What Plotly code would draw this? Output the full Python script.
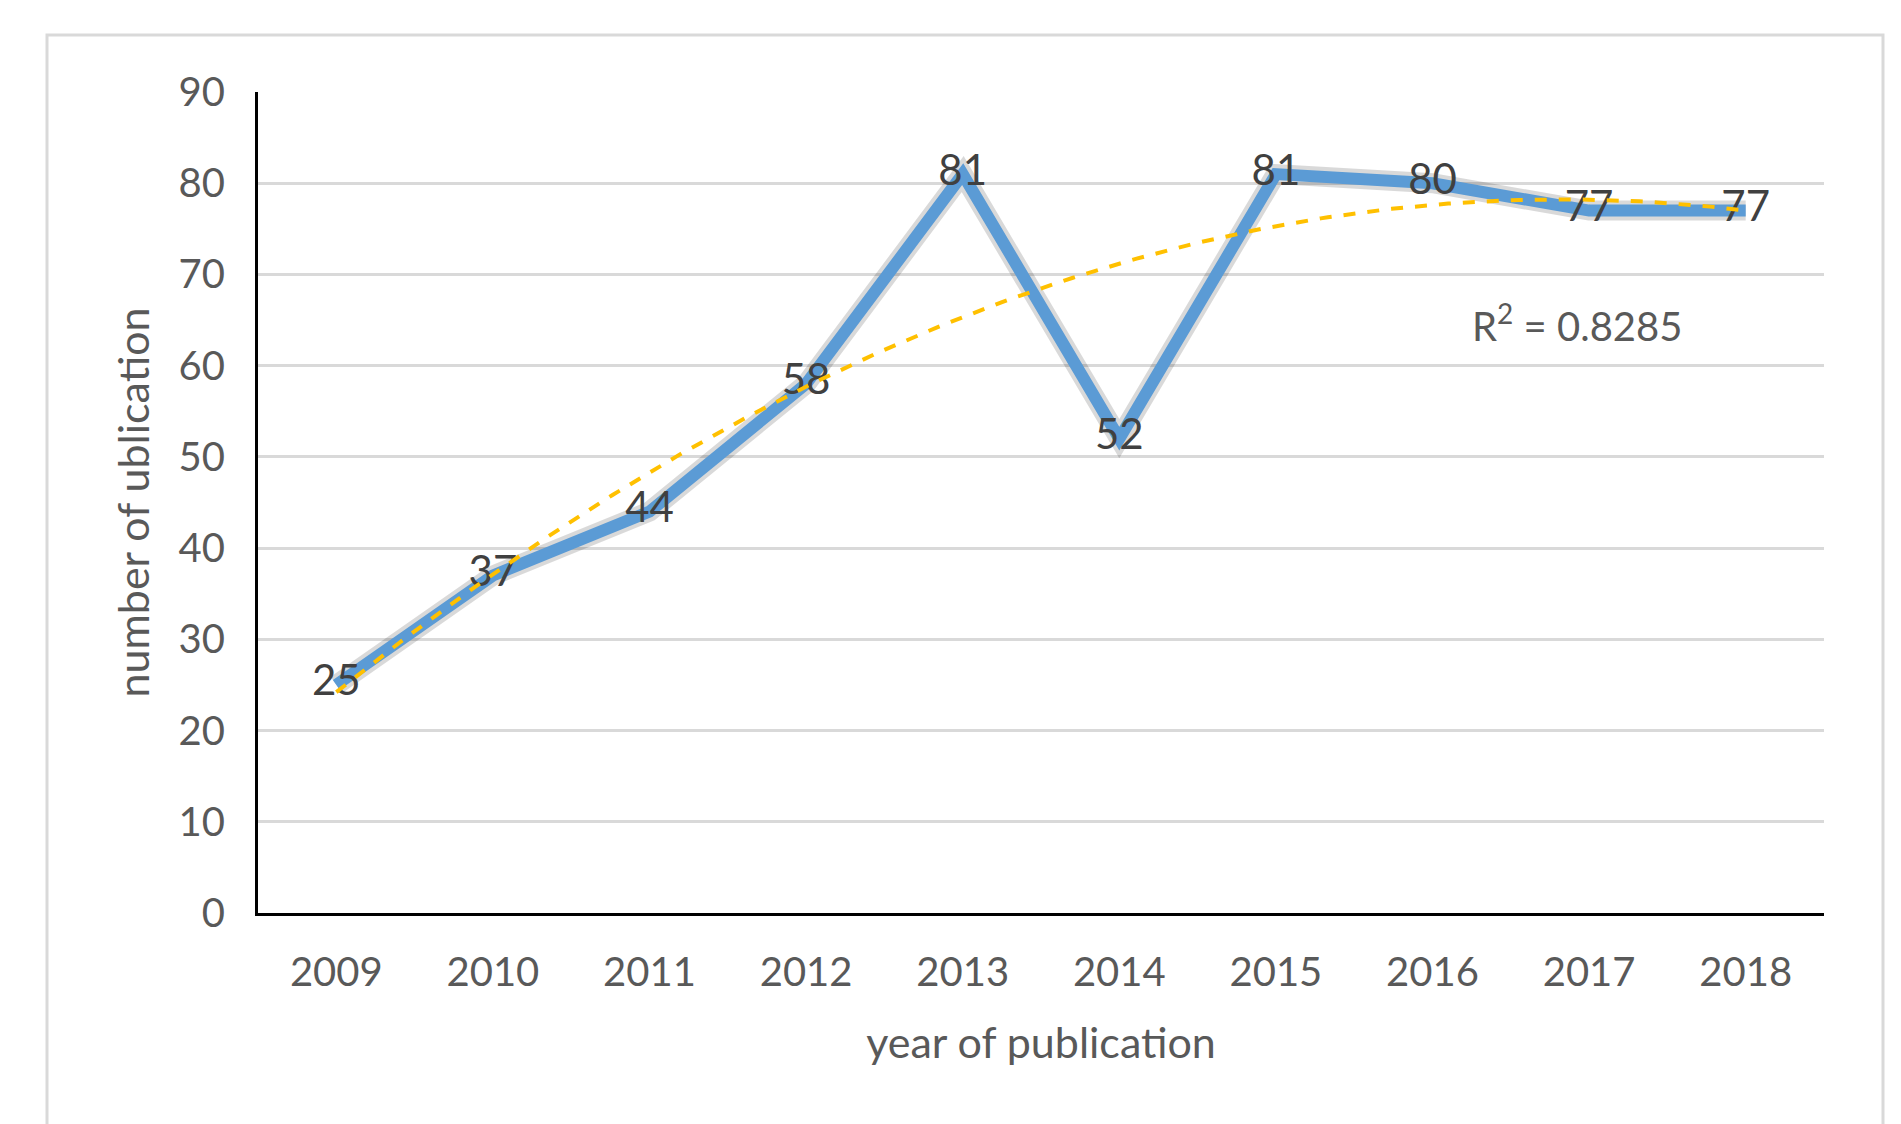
import numpy as np
import plotly.graph_objects as go

# данные
years = ['2009', '2010', '2011', '2012', '2013', '2014', '2015', '2016', '2017', '2018']
counts = [25, 37, 44, 58, 81, 52, 81, 80, 77, 77]
y_ticks = [0, 10, 20, 30, 40, 50, 60, 70, 80, 90]
r2_text = 'R<sup>2</sup> = 0.8285'

W, H = 1901, 1124
L, R, T, B = 250, 85, 84, 219
pw, ph = W - L - R, H - T - B

font = 'Lato, Carlito, Calibri, sans-serif'
idx = np.arange(len(years))

# полиномиальный тренд 2-й степени (как в Excel)
coef = np.polyfit(idx + 1, counts, 2)
xs = np.linspace(0, len(years) - 1, 200)
trend = np.polyval(coef, xs + 1)

fig = go.Figure()
fig.add_trace(go.Scatter(
    x=idx, y=counts, mode='lines',
    line=dict(color='rgba(0,0,0,0.15)', width=20),
    hoverinfo='skip', showlegend=False
))
fig.add_trace(go.Scatter(
    x=idx, y=counts, mode='lines+text',
    line=dict(color='#5B9BD5', width=12),
    text=[str(v) for v in counts], textposition='middle center',
    textfont=dict(family=font, size=42, color='#404040'),
    showlegend=False
))
fig.add_trace(go.Scatter(
    x=xs, y=trend, mode='lines',
    line=dict(color='#FFC000', width=4, dash='dash'),
    hoverinfo='skip', showlegend=False
))

fig.add_annotation(
    x=7.92, y=64.7, text=r2_text, showarrow=False,
    font=dict(family=font, size=40, color='#595959')
)

# внешняя рамка
fig.add_shape(
    type='rect', xref='paper', yref='paper',
    x0=(39 - L) / pw, x1=(1875 - L) / pw,
    y0=-0.4, y1=(905 - 27) / ph,
    line=dict(color='#D9D9D9', width=3), layer='below'
)

fig.update_layout(
    width=W, height=H,
    margin=dict(l=L, r=R, t=T, b=B),
    paper_bgcolor='white', plot_bgcolor='white',
    font=dict(family=font, color='#595959', size=40),
    xaxis=dict(
        tickmode='array', tickvals=list(idx), ticktext=years,
        range=[-0.5, len(years) - 0.5],
        showgrid=False, zeroline=False,
        showline=True, linecolor='black', linewidth=3,
        ticks='', ticklabelstandoff=22,
        tickfont=dict(size=40, color='#595959'),
        title=dict(text='year of publication', standoff=34,
                   font=dict(size=43, color='#595959'))
    ),
    yaxis=dict(
        tickmode='array', tickvals=y_ticks,
        range=[0, 90],
        showgrid=True, gridcolor='#D9D9D9', gridwidth=2.5,
        zeroline=False,
        showline=True, linecolor='black', linewidth=3,
        ticks='', ticklabelstandoff=22,
        tickfont=dict(size=40, color='#595959'),
        title=dict(text='number of ublication', standoff=16,
                   font=dict(size=43, color='#595959'))
    ),
)

fig.write_html('out.html')
